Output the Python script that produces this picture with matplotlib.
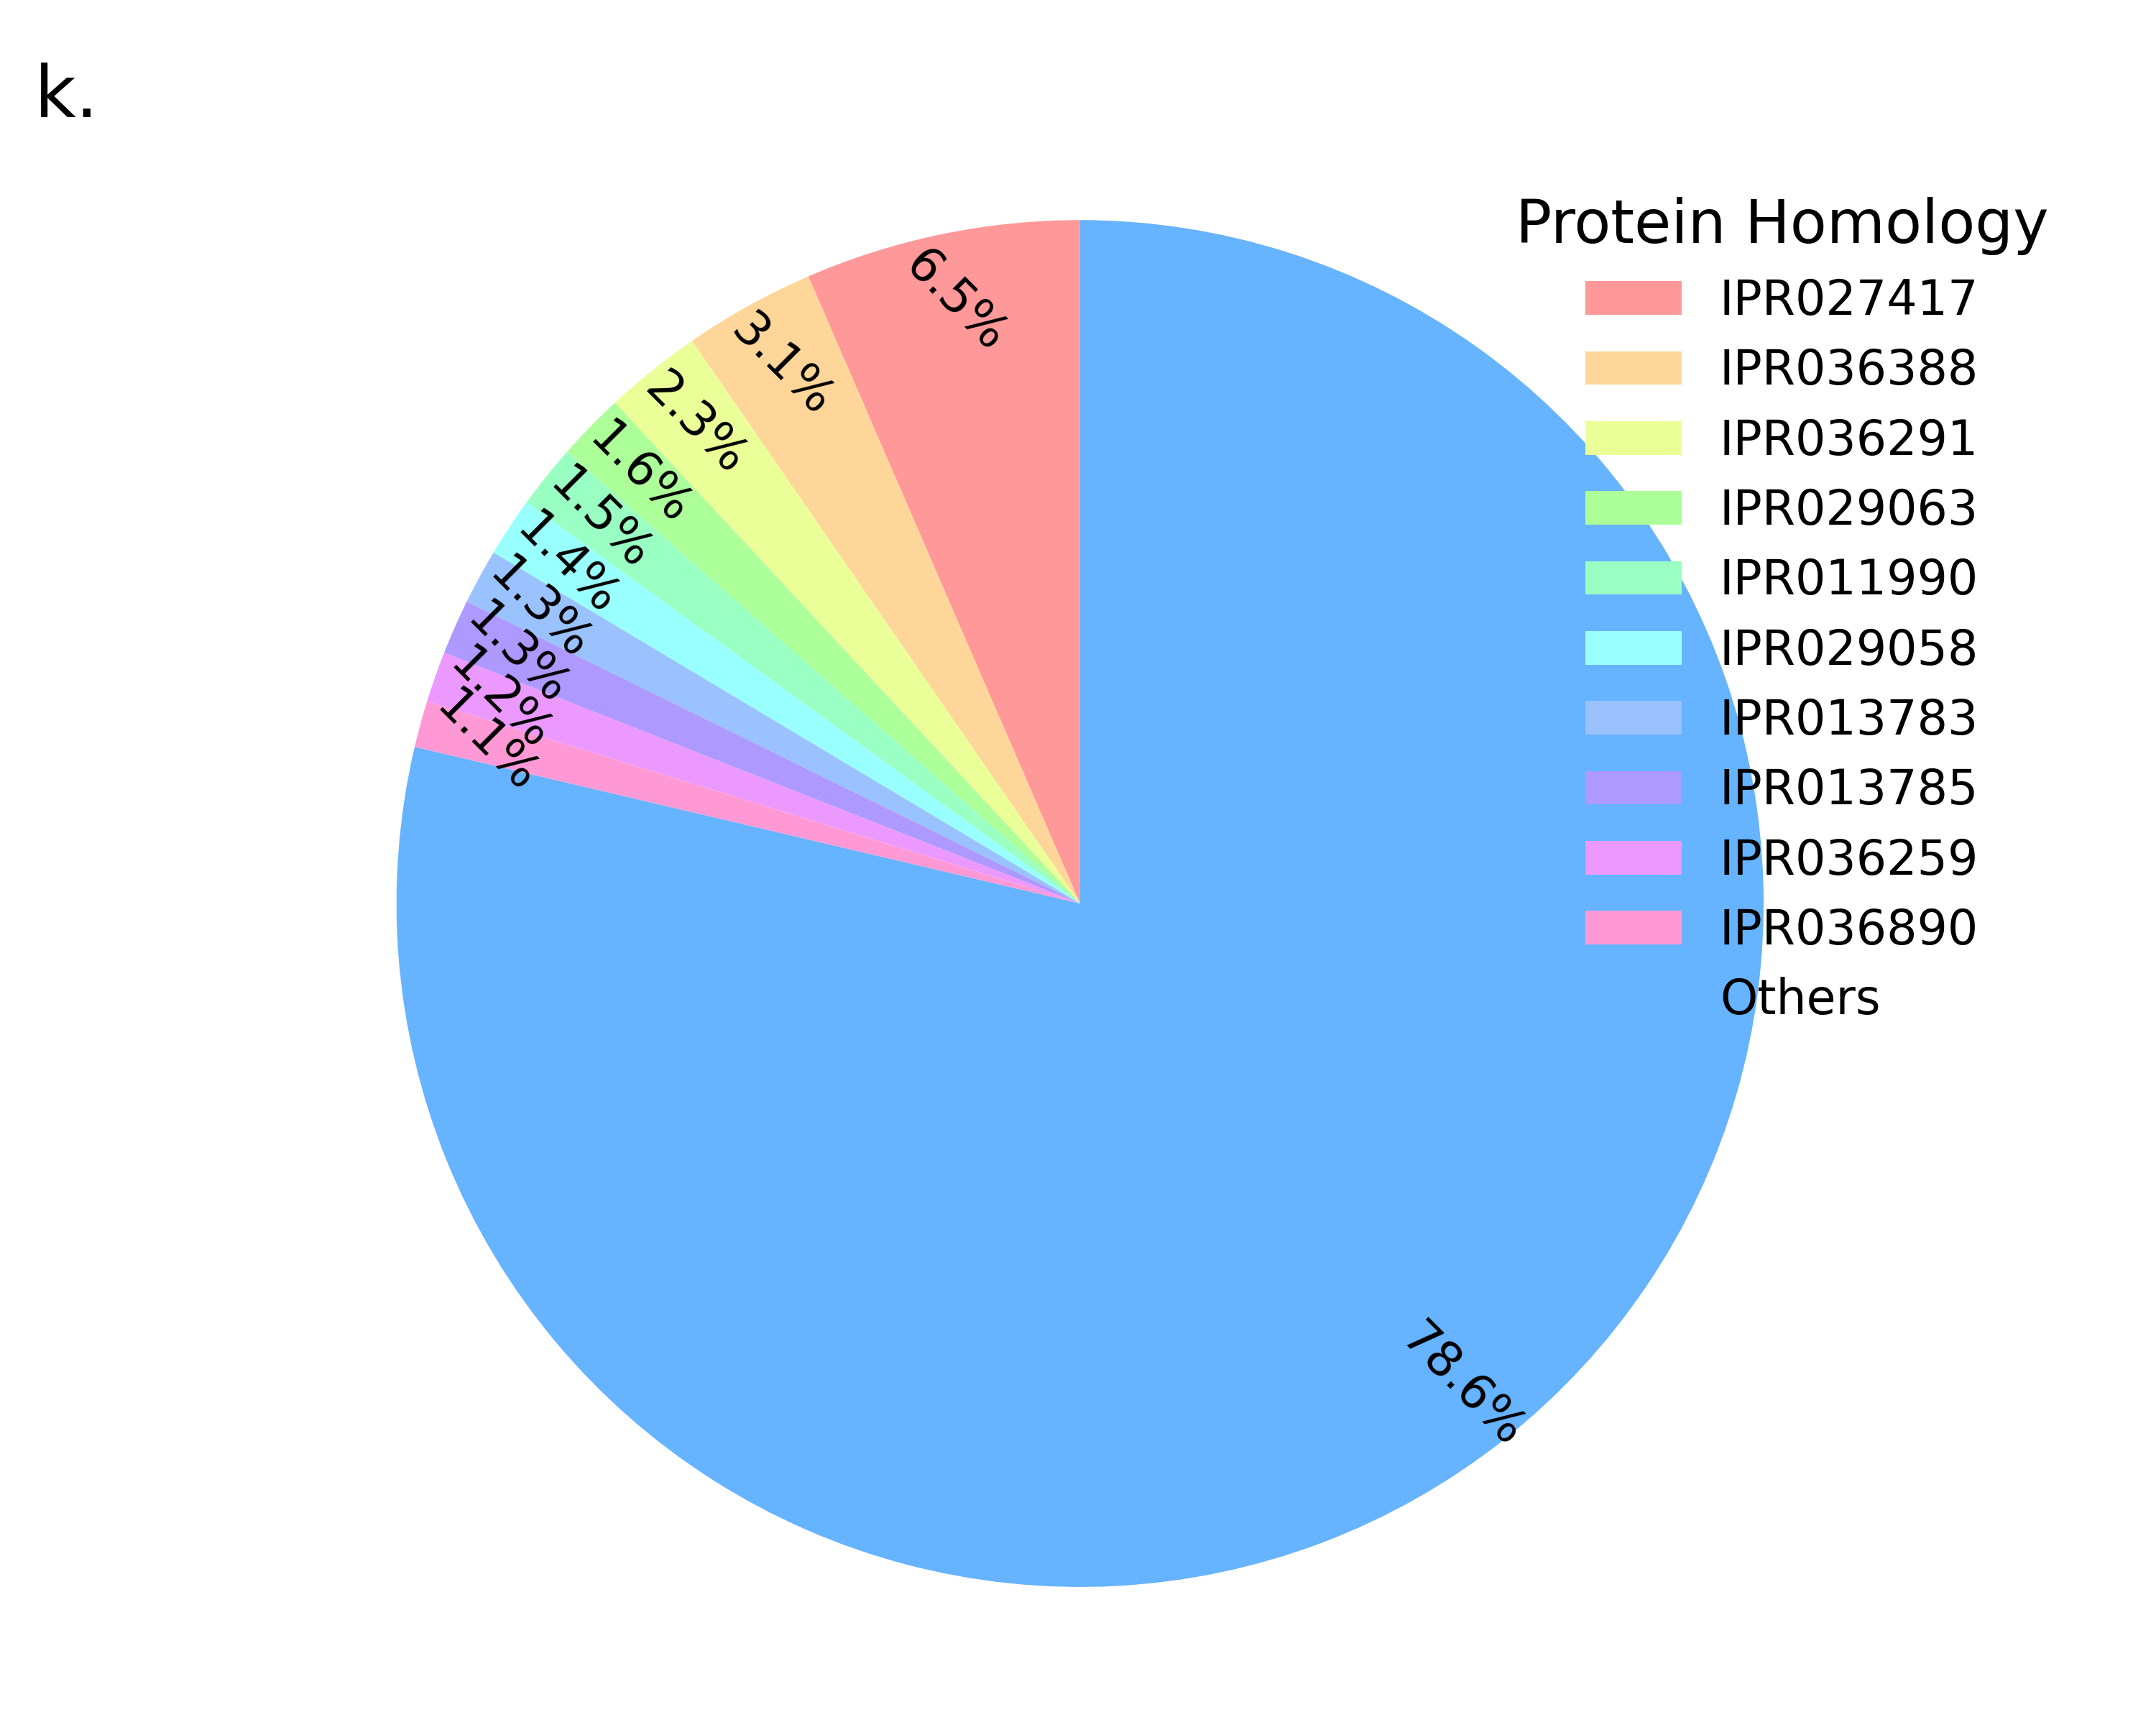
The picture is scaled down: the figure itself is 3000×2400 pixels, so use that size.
import matplotlib
matplotlib.use("Agg")
import matplotlib.pyplot as plt
from matplotlib.patches import Patch

# Protein homology shares (percent)
categories = ['IPR027417', 'IPR036388', 'IPR036291', 'IPR029063', 'IPR011990',
              'IPR029058', 'IPR013783', 'IPR013785', 'IPR036259', 'IPR036890', 'Others']
shares = [6.5, 3.1, 2.3, 1.6, 1.5, 1.4, 1.3, 1.3, 1.2, 1.1, 78.6]
colors = ['#ff9999', '#ffd699', '#ebff99', '#adff99', '#99ffc2',
          '#99ffff', '#99c2ff', '#ad99ff', '#eb99ff', '#ff99d6', '#66b3ff']

total = sum(shares)

fig = plt.figure(figsize=(10, 8), dpi=300)
ax = fig.add_axes([0, 0, 1, 1])

wedges, texts, autotexts = ax.pie(
    shares, colors=colors, startangle=90, pctdistance=0.9,
    autopct=lambda p: f'{p * total / 100:.1f}%',
    textprops={'fontsize': 16})

# rotate the percent labels
for t in autotexts:
    t.set_rotation(-45)

# place the pie inside the figure
ax.set_aspect('auto')
ax.set_xlim(-1.580, 1.574)
ax.set_ylim(-1.202, 1.322)
ax.axis('off')

# legend: Others shown without a colour patch
handles = list(wedges[:10]) + [Patch(facecolor='none', edgecolor='none')]
ax.legend(handles, categories, title='Protein Homology', title_fontsize=20,
          fontsize=16, frameon=False, loc='upper left', labelspacing=0.47,
          bbox_to_anchor=(0.683, 0.911), bbox_transform=fig.transFigure)

fig.text(0.016, 0.932, 'k.', fontsize=24)

fig.savefig('out.png', dpi=300)
